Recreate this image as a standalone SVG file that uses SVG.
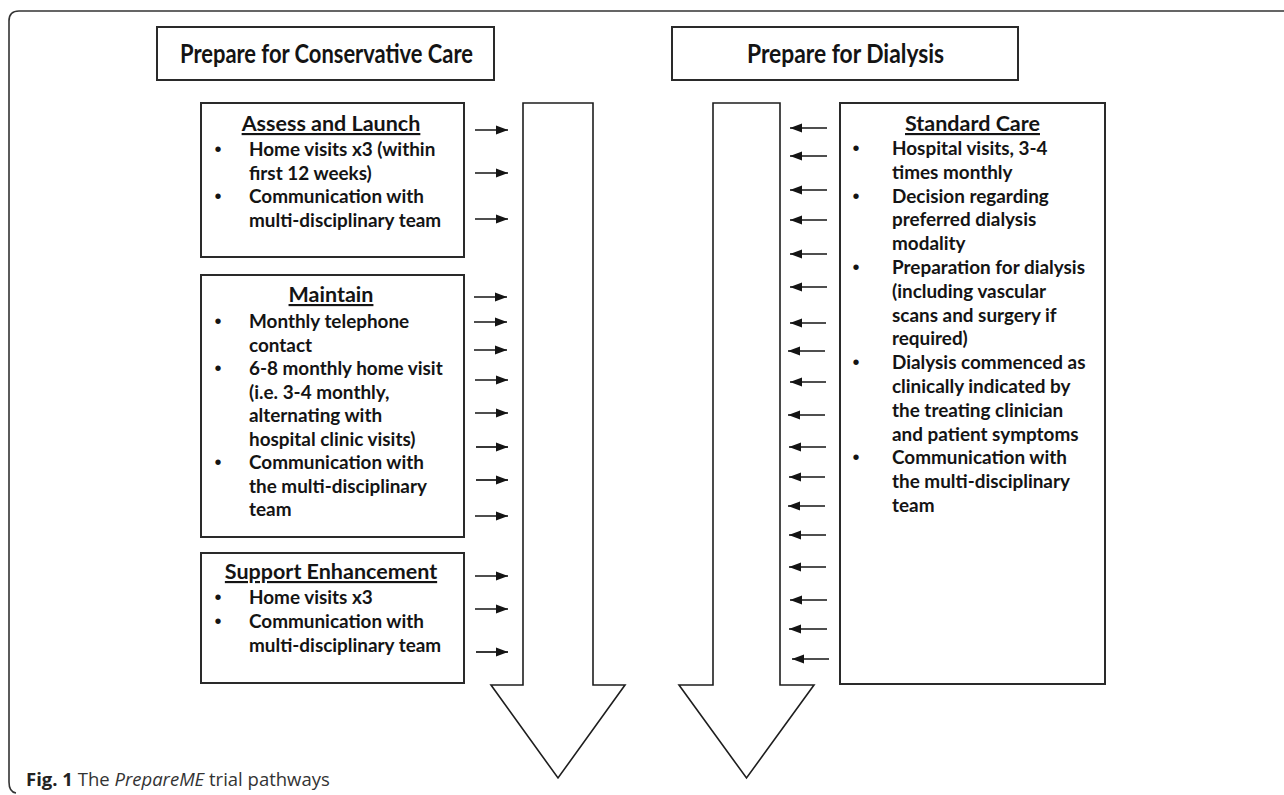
<svg xmlns="http://www.w3.org/2000/svg" width="1284" height="795" viewBox="0 0 1284 795">
<defs>
<style>
.box{fill:#fff;stroke:#2a2a2a;stroke-width:2}
.big{fill:#fff;stroke:#1e1e1e;stroke-width:1.6}
.hdr{font-family:Lato,"Liberation Sans",sans-serif;font-weight:bold;font-size:27px;fill:#141414}
.ttl{font-family:Lato,"Liberation Sans",sans-serif;font-weight:bold;font-size:21.5px;fill:#141414;text-decoration:underline}
.txt{font-family:Lato,"Liberation Sans",sans-serif;font-weight:bold;font-size:18.9px;fill:#141414}
.bul{font-family:"Liberation Sans",sans-serif;font-size:20px;fill:#141414}
.con{stroke:#141414;stroke-width:1.7;fill:none}
.cap{font-family:"Open Sans","Liberation Sans",sans-serif;font-size:18.5px;fill:#333}
</style>
<marker id="ah" markerUnits="userSpaceOnUse" markerWidth="13" markerHeight="10" refX="12" refY="5" orient="auto">
<path d="M0,0.5 L12,5 L0,9.5 Z" fill="#141414"/>
</marker>
</defs>
<rect width="1284" height="795" fill="#fff"/>
<path d="M1284,11 H19 Q9,11 9,21 V782 Q9,792 16,793" fill="none" stroke="#333" stroke-width="1.6"/>

<g id="header-conservative">
<rect class="box" x="157" y="27" width="337" height="53"/>
<text class="hdr" x="180" y="63" textLength="293" lengthAdjust="spacingAndGlyphs">Prepare for Conservative Care</text>
</g>
<g id="header-dialysis">
<rect class="box" x="672" y="27" width="346" height="53"/>
<text class="hdr" x="747" y="63" textLength="197" lengthAdjust="spacingAndGlyphs">Prepare for Dialysis</text>
</g>

<g id="arrow-conservative">
<path class="big" d="M523,103 H593 V685 H625 L558,778 L491,685 H523 Z"/>
</g>
<g id="arrow-dialysis">
<path class="big" d="M713,103 H780 V685 H814 L746.5,778 L679,685 H713 Z"/>
</g>

<g id="assess-launch">
<rect class="box" x="201" y="103" width="263" height="154"/>
<text class="ttl" x="331" y="131" text-anchor="middle">Assess and Launch</text>
<text class="bul" x="218" y="156" text-anchor="middle">•</text>
<text class="bul" x="218" y="203" text-anchor="middle">•</text>
<text class="txt" x="249" y="156">Home visits x3 (within</text>
<text class="txt" x="249" y="179.5">first 12 weeks)</text>
<text class="txt" x="249" y="203">Communication with</text>
<text class="txt" x="249" y="226.5">multi-disciplinary team</text>
</g>

<g id="maintain">
<rect class="box" x="201" y="275" width="263" height="262"/>
<text class="ttl" x="331" y="302" text-anchor="middle">Maintain</text>
<text class="bul" x="218" y="328" text-anchor="middle">•</text>
<text class="bul" x="218" y="375" text-anchor="middle">•</text>
<text class="bul" x="218" y="469" text-anchor="middle">•</text>
<text class="txt" x="249" y="328">Monthly telephone</text>
<text class="txt" x="249" y="351.5">contact</text>
<text class="txt" x="249" y="375">6-8 monthly home visit</text>
<text class="txt" x="249" y="398.5">(i.e. 3-4 monthly,</text>
<text class="txt" x="249" y="422">alternating with</text>
<text class="txt" x="249" y="445.5">hospital clinic visits)</text>
<text class="txt" x="249" y="469">Communication with</text>
<text class="txt" x="249" y="492.5">the multi-disciplinary</text>
<text class="txt" x="249" y="516">team</text>
</g>

<g id="support-enhancement">
<rect class="box" x="201" y="553" width="263" height="130"/>
<text class="ttl" x="331" y="579" text-anchor="middle">Support Enhancement</text>
<text class="bul" x="218" y="604" text-anchor="middle">•</text>
<text class="bul" x="218" y="628" text-anchor="middle">•</text>
<text class="txt" x="249" y="604">Home visits x3</text>
<text class="txt" x="249" y="628">Communication with</text>
<text class="txt" x="249" y="652">multi-disciplinary team</text>
</g>

<g id="standard-care">
<rect class="box" x="840" y="103" width="265" height="581"/>
<text class="ttl" x="972.5" y="131" text-anchor="middle">Standard Care</text>
<text class="bul" x="856" y="155" text-anchor="middle">•</text>
<text class="bul" x="856" y="202.6" text-anchor="middle">•</text>
<text class="bul" x="856" y="274" text-anchor="middle">•</text>
<text class="bul" x="856" y="369.2" text-anchor="middle">•</text>
<text class="bul" x="856" y="464.4" text-anchor="middle">•</text>
<text class="txt" x="892" y="155">Hospital visits, 3-4</text>
<text class="txt" x="892" y="178.8">times monthly</text>
<text class="txt" x="892" y="202.6">Decision regarding</text>
<text class="txt" x="892" y="226.4">preferred dialysis</text>
<text class="txt" x="892" y="250.2">modality</text>
<text class="txt" x="892" y="274">Preparation for dialysis</text>
<text class="txt" x="892" y="297.8">(including vascular</text>
<text class="txt" x="892" y="321.6">scans and surgery if</text>
<text class="txt" x="892" y="345.4">required)</text>
<text class="txt" x="892" y="369.2">Dialysis commenced as</text>
<text class="txt" x="892" y="393">clinically indicated by</text>
<text class="txt" x="892" y="416.8">the treating clinician</text>
<text class="txt" x="892" y="440.6">and patient symptoms</text>
<text class="txt" x="892" y="464.4">Communication with</text>
<text class="txt" x="892" y="488.2">the multi-disciplinary</text>
<text class="txt" x="892" y="512">team</text>
</g>

<g id="connectors">
<line class="con" x1="475" y1="130" x2="508" y2="130" marker-end="url(#ah)"/>
<line class="con" x1="475" y1="173" x2="508" y2="173" marker-end="url(#ah)"/>
<line class="con" x1="475" y1="219" x2="508" y2="219" marker-end="url(#ah)"/>
<line class="con" x1="474" y1="297" x2="507" y2="297" marker-end="url(#ah)"/>
<line class="con" x1="474" y1="322" x2="507" y2="322" marker-end="url(#ah)"/>
<line class="con" x1="474" y1="350" x2="507" y2="350" marker-end="url(#ah)"/>
<line class="con" x1="475" y1="380" x2="508" y2="380" marker-end="url(#ah)"/>
<line class="con" x1="475" y1="413" x2="508" y2="413" marker-end="url(#ah)"/>
<line class="con" x1="476" y1="447" x2="508" y2="447" marker-end="url(#ah)"/>
<line class="con" x1="476" y1="480" x2="508" y2="480" marker-end="url(#ah)"/>
<line class="con" x1="475" y1="516" x2="508" y2="516" marker-end="url(#ah)"/>
<line class="con" x1="475" y1="576" x2="508" y2="576" marker-end="url(#ah)"/>
<line class="con" x1="475" y1="609" x2="508" y2="609" marker-end="url(#ah)"/>
<line class="con" x1="476" y1="652" x2="508" y2="652" marker-end="url(#ah)"/>

<line class="con" x1="827" y1="128" x2="790" y2="128" marker-end="url(#ah)"/>
<line class="con" x1="827" y1="156" x2="790" y2="156" marker-end="url(#ah)"/>
<line class="con" x1="827" y1="190" x2="790" y2="190" marker-end="url(#ah)"/>
<line class="con" x1="827" y1="220" x2="790" y2="220" marker-end="url(#ah)"/>
<line class="con" x1="827" y1="254" x2="790" y2="254" marker-end="url(#ah)"/>
<line class="con" x1="827" y1="287" x2="790" y2="287" marker-end="url(#ah)"/>
<line class="con" x1="826" y1="323" x2="790" y2="323" marker-end="url(#ah)"/>
<line class="con" x1="825" y1="351" x2="788" y2="351" marker-end="url(#ah)"/>
<line class="con" x1="826" y1="382" x2="790" y2="382" marker-end="url(#ah)"/>
<line class="con" x1="825" y1="415" x2="788" y2="415" marker-end="url(#ah)"/>
<line class="con" x1="826" y1="447" x2="789" y2="447" marker-end="url(#ah)"/>
<line class="con" x1="825" y1="477" x2="789" y2="477" marker-end="url(#ah)"/>
<line class="con" x1="825" y1="506" x2="788" y2="506" marker-end="url(#ah)"/>
<line class="con" x1="826" y1="535" x2="789" y2="535" marker-end="url(#ah)"/>
<line class="con" x1="826" y1="567" x2="789" y2="567" marker-end="url(#ah)"/>
<line class="con" x1="827" y1="600" x2="790" y2="600" marker-end="url(#ah)"/>
<line class="con" x1="827" y1="629" x2="789" y2="629" marker-end="url(#ah)"/>
<line class="con" x1="829" y1="659" x2="792" y2="659" marker-end="url(#ah)"/>
</g>

<text class="cap" x="26" y="786"><tspan font-weight="bold" fill="#222">Fig. 1</tspan> The <tspan font-style="italic">PrepareME</tspan> trial pathways</text>
</svg>
